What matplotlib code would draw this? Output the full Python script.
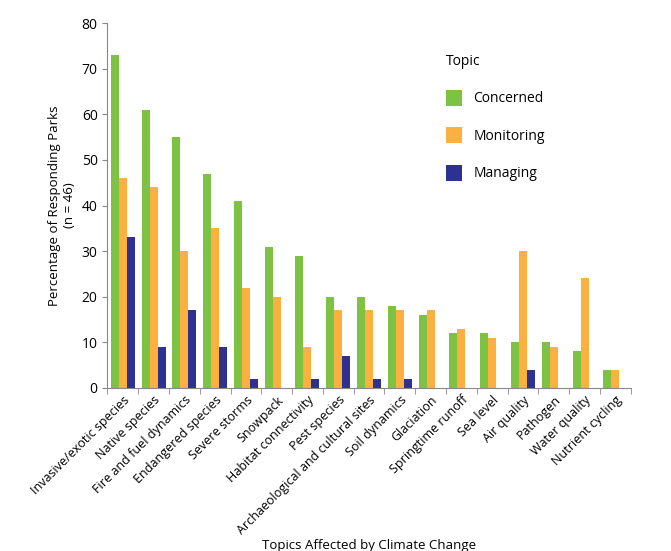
import matplotlib.pyplot as plt
import numpy as np

plt.rcParams['font.family'] = ['Open Sans', 'DejaVu Sans']

topics = ['Invasive/exotic species', 'Native species', 'Fire and fuel dynamics',
          'Endangered species', 'Severe storms', 'Snowpack', 'Habitat connectivity',
          'Pest species', 'Archaeological and cultural sites', 'Soil dynamics',
          'Glaciation', 'Springtime runoff', 'Sea level', 'Air quality', 'Pathogen',
          'Water quality', 'Nutrient cycling']
concerned = [73, 61, 55, 47, 41, 31, 29, 20, 20, 18, 16, 12, 12, 10, 10, 8, 4]
monitoring = [46, 44, 30, 35, 22, 20, 9, 17, 17, 17, 17, 13, 11, 30, 9, 24, 4]
managing = [33, 9, 17, 9, 2, 0, 2, 7, 2, 2, 0, 0, 0, 4, 0, 0, 0]

fig = plt.figure(figsize=(6.71, 5.51), dpi=100)
ax = fig.add_axes([0.16, 0.296, 0.78, 0.662])
x = np.arange(len(topics))
w = 0.26
ax.bar(x - w, concerned, w, color='#7DC242', label='Concerned')
ax.bar(x, monitoring, w, color='#FBB040', label='Monitoring')
ax.bar(x + w, managing, w, color='#2E3192', label='Managing')

ax.set_xlim(-0.5, len(topics) - 0.5)
ax.set_ylim(0, 80)
ax.set_yticks(range(0, 81, 10))
ax.set_xticks(x)
ax.set_xticklabels(topics, rotation=45, ha='right', rotation_mode='anchor', fontsize=9)
ax.set_xticks(np.arange(-0.5, len(topics)), minor=True)
ax.tick_params(axis='x', which='major', length=0, pad=4)
ax.tick_params(axis='x', which='minor', length=4, color='#888888')
ax.tick_params(axis='y', labelsize=10, color='#888888')
for s in ['top', 'right']:
    ax.spines[s].set_visible(False)
for s in ['left', 'bottom']:
    ax.spines[s].set_color('#888888')

ax.set_ylabel('Percentage of Responding Parks\n(n = 46)', fontsize=9.5)
ax.set_xlabel('Topics Affected by Climate Change', fontsize=9.5, labelpad=2)
leg = ax.legend(title='Topic', frameon=False, loc='upper right',
                bbox_to_anchor=(0.86, 0.95), fontsize=10, title_fontsize=10,
                handlelength=1.2, handleheight=1.4, labelspacing=1.5,
                alignment='left')

plt.savefig('out.png', dpi=100)
